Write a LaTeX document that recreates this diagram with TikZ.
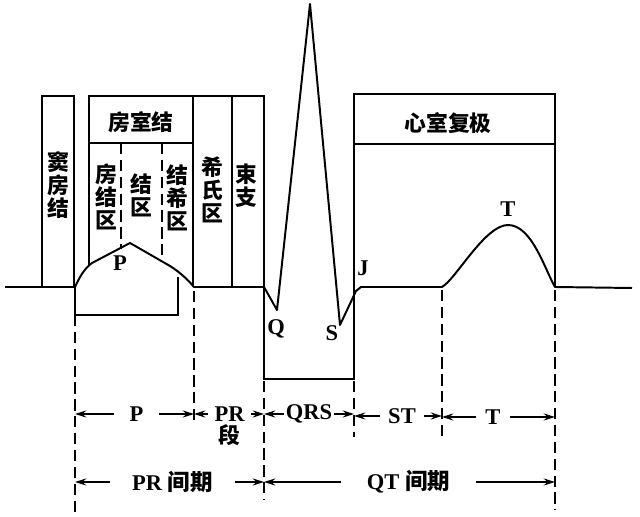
\documentclass[tikz,border=0pt]{standalone}
\usepackage{fontspec}
\setmainfont{Liberation Serif}
\newfontfamily\cjk{Noto Sans CJK SC}
\usetikzlibrary{arrows.meta,positioning}

\begin{document}
\begin{tikzpicture}[
    x=0.025cm, y=-0.025cm,
    wave/.style={line width=1.4pt, line join=round},
    box/.style={line width=1.4pt},
    guide/.style={line width=1.2pt, dash pattern=on 8pt off 4pt},
    dim/.style={line width=1.2pt, -{Stealth[length=8pt,width=5pt]}},
    vlbl/.style={font=\cjk\bfseries\fontsize{15.5}{16.5}\selectfont, align=center, inner sep=0pt},
    hlbl/.style={font=\cjk\bfseries\fontsize{15.5}{16.5}\selectfont, inner sep=0pt},
    wlbl/.style={font=\bfseries\fontsize{16}{18}\selectfont, inner sep=0pt},
    gap/.style={font=\bfseries\fontsize{16}{18}\selectfont, inner sep=0pt, minimum height=0.3cm}
]
\useasboundingbox (0,0) rectangle (640,517);

% time marks
\coordinate (tA) at (75,287);
\coordinate (tB) at (194,287);
\coordinate (tC) at (264,287);
\coordinate (tD) at (354,287);
\coordinate (tE) at (442,287);
\coordinate (tF) at (555,287);

% boxes above the trace
\draw[box] (42,287) -- (42,96) -- (74,96) -- (74,287);
\draw[box] (89,265) -- (89,96) -- (193,96) -- (193,287);
\draw[box] (89,143) -- (193,143);
\draw[box] (193,96) -- (264,96) -- (264,379) -- (354,379) -- (354,94) -- (555,94) -- (555,287);
\draw[box] (232,96) -- (232,287);
\draw[box] (354,144) -- (555,144);
\draw[box] (75,287) -- (75,315) -- (178,315) -- (178,277);
\draw[guide] (121,143) -- (121,249);
\draw[guide] (162,143) -- (162,259);

% the trace
\draw[wave] (5,287) -- (tA)
  .. controls (80,276) and (85,268) .. (92,263) -- (130,243) -- (170,266)
  .. controls (181,273) and (188,280) .. (tB) -- (tC)
  -- (277,310) -- (310,4) -- (340,325) -- (356,291) -- (361,287) -- (tE)
  .. controls (456,279) and (485,225) .. (508,225)
  .. controls (532,225) and (545,270) .. (tF) -- (632,288);

% dashed guides
\draw[guide] (75,315) -- (75,513);
\draw[guide] (tB) ++(0,4) -- (194,425);
\draw[guide] (264,381) -- (264,500);
\draw[guide] (354,381) -- (354,437);
\draw[guide] (tE) ++(0,3) -- (442,438);
\draw[guide] (tF) ++(0,3) -- (555,510);

% labels
\node[vlbl] (sa) at (58,185) {窦\\房\\结};
\node[hlbl] (avn) at (141,122) {房室结};
\node[vlbl] (an) at (106,197) {房\\结\\区};
\node[vlbl] (nn) at (141,195) {结\\区};
\node[vlbl] (nh) at (177,198) {结\\希\\区};
\node[vlbl] (his) at (212,190) {希\\氏\\区};
\node[vlbl] (bb) at (246,186) {束\\支};
\node[hlbl] (vr) at (448,123) {心室复极};
\node[wlbl] (wP) at (120,263) {P};
\node[wlbl] (wQ) at (276,329) {Q};
\node[wlbl] (wS) at (332,333) {S};
\node[wlbl] (wJ) at (363,268) {J};
\node[wlbl] (wT) at (508,209) {T};

% intervals
\node[gap, minimum width=1.125cm] (lP) at (136.5,414) {P};
\node[gap, minimum width=1.075cm] (lPR) at (229.5,414) {PR};
\node[hlbl] (lSeg) [below=2pt of lPR] {段};
\node[gap, minimum width=1.25cm] (lQRS) at (309,414) {QRS};
\node[gap, minimum width=1.1cm] (lST) at (402,416) {ST};
\node[gap, minimum width=0.85cm] (lT) at (493,417) {T};
\node[gap, minimum width=3.125cm] (lPRi) at (172.5,482) {PR {\cjk 间期}};
\node[gap, minimum width=3.375cm] (lQT) at (408.5,482) {QT {\cjk 间期}};

\draw[dim] (lP.west) -- (tA |- lP);
\draw[dim] (lP.east) -- (tB |- lP);
\draw[dim] (lPR.west) -- (tB |- lPR);
\draw[dim] (lPR.east) -- (tC |- lPR);
\draw[dim] (lQRS.west) -- (tC |- lQRS);
\draw[dim] (lQRS.east) -- (tD |- lQRS);
\draw[dim] (lST.west) -- (tD |- lST);
\draw[dim] (lST.east) -- (tE |- lST);
\draw[dim] (lT.west) -- (tE |- lT);
\draw[dim] (lT.east) -- (tF |- lT);
\draw[dim] (lPRi.west) -- (tA |- lPRi);
\draw[dim] (lPRi.east) -- (tC |- lPRi);
\draw[dim] (lQT.west) -- (tC |- lQT);
\draw[dim] (lQT.east) -- (tF |- lQT);
\end{tikzpicture}
\end{document}
